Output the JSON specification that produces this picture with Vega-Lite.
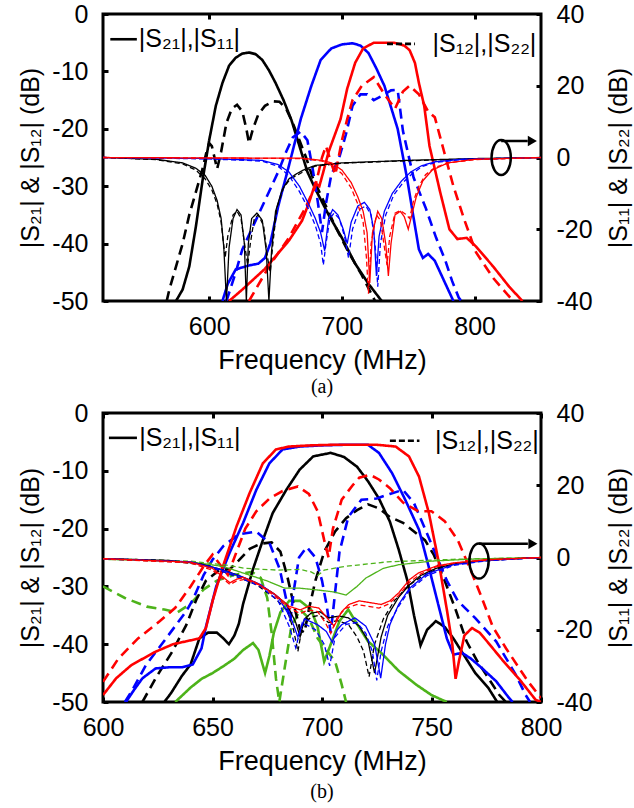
{
"$schema": "https://vega.github.io/schema/vega-lite/v6.json",
"background": "white",
"padding": {"left": 17, "top": 0, "right": 3, "bottom": 3},
"spacing": 0,
"config": {
  "view": {"stroke": "black", "strokeWidth": 3},
  "font": "Liberation Sans",
  "axis": {"domain": false, "grid": false, "zindex": 1, "labelFont": "Liberation Sans", "labelFontSize": 25, "labelColor": "black", "titleFont": "Liberation Sans", "titleFontSize": 25, "titleFontWeight": "normal", "titleColor": "black", "tickColor": "black", "tickWidth": 3, "tickSize": -5, "labelPadding": 20, "labelFlush": false, "labelOverlap": false, "labelBound": false},
  "title": {"font": "Liberation Serif", "fontSize": 20, "fontWeight": "normal", "color": "black"}
},
"datasets": {
"aL": [
{"c":"F1","p":"S21","f":575,"v":-50},{"c":"F1","p":"S21","f":580,"v":-48},{"c":"F1","p":"S21","f":585,"v":-44},{"c":"F1","p":"S21","f":590,"v":-37},{"c":"F1","p":"S21","f":595,"v":-29},{"c":"F1","p":"S21","f":600,"v":-22},{"c":"F1","p":"S21","f":605,"v":-16},{"c":"F1","p":"S21","f":610,"v":-12},{"c":"F1","p":"S21","f":615,"v":-9},{"c":"F1","p":"S21","f":620,"v":-7.6},{"c":"F1","p":"S21","f":625,"v":-6.9},{"c":"F1","p":"S21","f":630,"v":-6.7},{"c":"F1","p":"S21","f":635,"v":-7},{"c":"F1","p":"S21","f":640,"v":-8},{"c":"F1","p":"S21","f":645,"v":-9.8},{"c":"F1","p":"S21","f":650,"v":-12},{"c":"F1","p":"S21","f":656,"v":-15},{"c":"F1","p":"S21","f":662,"v":-18.5},{"c":"F1","p":"S21","f":668,"v":-23},{"c":"F1","p":"S21","f":674,"v":-27.5},{"c":"F1","p":"S21","f":680,"v":-30.5},{"c":"F1","p":"S21","f":690,"v":-35},{"c":"F1","p":"S21","f":700,"v":-39},{"c":"F1","p":"S21","f":710,"v":-43.5},{"c":"F1","p":"S21","f":720,"v":-47},{"c":"F1","p":"S21","f":730,"v":-50},
{"c":"F1","p":"S12","f":568,"v":-50},{"c":"F1","p":"S12","f":570,"v":-48},{"c":"F1","p":"S12","f":575,"v":-44},{"c":"F1","p":"S12","f":580,"v":-40},{"c":"F1","p":"S12","f":585,"v":-35},{"c":"F1","p":"S12","f":590,"v":-31},{"c":"F1","p":"S12","f":595,"v":-27},{"c":"F1","p":"S12","f":598,"v":-24},{"c":"F1","p":"S12","f":600,"v":-22.5},{"c":"F1","p":"S12","f":602,"v":-23},{"c":"F1","p":"S12","f":604,"v":-25},{"c":"F1","p":"S12","f":606,"v":-27},{"c":"F1","p":"S12","f":609,"v":-24},{"c":"F1","p":"S12","f":613,"v":-19},{"c":"F1","p":"S12","f":617,"v":-16.5},{"c":"F1","p":"S12","f":621,"v":-15.8},{"c":"F1","p":"S12","f":625,"v":-17},{"c":"F1","p":"S12","f":628,"v":-20},{"c":"F1","p":"S12","f":630,"v":-22.5},{"c":"F1","p":"S12","f":633,"v":-20},{"c":"F1","p":"S12","f":637,"v":-17.5},{"c":"F1","p":"S12","f":642,"v":-16},{"c":"F1","p":"S12","f":648,"v":-15.2},{"c":"F1","p":"S12","f":653,"v":-15.3},{"c":"F1","p":"S12","f":658,"v":-16.5},{"c":"F1","p":"S12","f":663,"v":-19},{"c":"F1","p":"S12","f":668,"v":-22},{"c":"F1","p":"S12","f":673,"v":-25},{"c":"F1","p":"S12","f":678,"v":-28.5},{"c":"F1","p":"S12","f":685,"v":-32},{"c":"F1","p":"S12","f":695,"v":-37},{"c":"F1","p":"S12","f":705,"v":-41.5},{"c":"F1","p":"S12","f":715,"v":-45.5},{"c":"F1","p":"S12","f":725,"v":-50},
{"c":"F2","p":"S21","f":610,"v":-50},{"c":"F2","p":"S21","f":614,"v":-47},{"c":"F2","p":"S21","f":620,"v":-44.5},{"c":"F2","p":"S21","f":630,"v":-43.8},{"c":"F2","p":"S21","f":637,"v":-43.5},{"c":"F2","p":"S21","f":642,"v":-42.5},{"c":"F2","p":"S21","f":646,"v":-40},{"c":"F2","p":"S21","f":652,"v":-33.5},{"c":"F2","p":"S21","f":660,"v":-26.5},{"c":"F2","p":"S21","f":669,"v":-18.3},{"c":"F2","p":"S21","f":677,"v":-12.5},{"c":"F2","p":"S21","f":684,"v":-8},{"c":"F2","p":"S21","f":692,"v":-6},{"c":"F2","p":"S21","f":700,"v":-5.3},{"c":"F2","p":"S21","f":708,"v":-5.1},{"c":"F2","p":"S21","f":714,"v":-5.5},{"c":"F2","p":"S21","f":720,"v":-6.8},{"c":"F2","p":"S21","f":726,"v":-9.5},{"c":"F2","p":"S21","f":732,"v":-12.5},{"c":"F2","p":"S21","f":742,"v":-20},{"c":"F2","p":"S21","f":749,"v":-28.5},{"c":"F2","p":"S21","f":754,"v":-35.5},{"c":"F2","p":"S21","f":758,"v":-41},{"c":"F2","p":"S21","f":761,"v":-42.5},{"c":"F2","p":"S21","f":765,"v":-41.8},{"c":"F2","p":"S21","f":770,"v":-43},{"c":"F2","p":"S21","f":776,"v":-46},{"c":"F2","p":"S21","f":784,"v":-50},
{"c":"F2","p":"S12","f":613,"v":-50},{"c":"F2","p":"S12","f":620,"v":-45},{"c":"F2","p":"S12","f":625,"v":-41},{"c":"F2","p":"S12","f":635,"v":-36},{"c":"F2","p":"S12","f":645,"v":-31},{"c":"F2","p":"S12","f":652,"v":-27.5},{"c":"F2","p":"S12","f":658,"v":-24},{"c":"F2","p":"S12","f":663,"v":-21.5},{"c":"F2","p":"S12","f":669,"v":-20.5},{"c":"F2","p":"S12","f":674,"v":-22},{"c":"F2","p":"S12","f":678,"v":-27},{"c":"F2","p":"S12","f":682,"v":-33},{"c":"F2","p":"S12","f":685,"v":-38},{"c":"F2","p":"S12","f":688,"v":-33},{"c":"F2","p":"S12","f":692,"v":-28},{"c":"F2","p":"S12","f":698,"v":-25},{"c":"F2","p":"S12","f":703,"v":-21},{"c":"F2","p":"S12","f":708,"v":-16},{"c":"F2","p":"S12","f":714,"v":-14},{"c":"F2","p":"S12","f":719,"v":-14},{"c":"F2","p":"S12","f":724,"v":-15},{"c":"F2","p":"S12","f":730,"v":-14.3},{"c":"F2","p":"S12","f":737,"v":-13.3},{"c":"F2","p":"S12","f":742,"v":-13.2},{"c":"F2","p":"S12","f":746,"v":-20.4},{"c":"F2","p":"S12","f":754,"v":-28.5},{"c":"F2","p":"S12","f":763,"v":-33.7},{"c":"F2","p":"S12","f":771,"v":-39},{"c":"F2","p":"S12","f":778,"v":-43},{"c":"F2","p":"S12","f":783,"v":-46.5},{"c":"F2","p":"S12","f":788,"v":-49.4},{"c":"F2","p":"S12","f":790,"v":-50},
{"c":"F3","p":"S21","f":615,"v":-50},{"c":"F3","p":"S21","f":625,"v":-48},{"c":"F3","p":"S21","f":642,"v":-44.4},{"c":"F3","p":"S21","f":660,"v":-39.5},{"c":"F3","p":"S21","f":670,"v":-36},{"c":"F3","p":"S21","f":675,"v":-33},{"c":"F3","p":"S21","f":680,"v":-29.5},{"c":"F3","p":"S21","f":683,"v":-30},{"c":"F3","p":"S21","f":686,"v":-27.5},{"c":"F3","p":"S21","f":690,"v":-24},{"c":"F3","p":"S21","f":699,"v":-18.3},{"c":"F3","p":"S21","f":704,"v":-13},{"c":"F3","p":"S21","f":710,"v":-8.5},{"c":"F3","p":"S21","f":716,"v":-6},{"c":"F3","p":"S21","f":724,"v":-5},{"c":"F3","p":"S21","f":739,"v":-5},{"c":"F3","p":"S21","f":747,"v":-5.5},{"c":"F3","p":"S21","f":751,"v":-6.3},{"c":"F3","p":"S21","f":755,"v":-8.5},{"c":"F3","p":"S21","f":758,"v":-12},{"c":"F3","p":"S21","f":762,"v":-16},{"c":"F3","p":"S21","f":766,"v":-23},{"c":"F3","p":"S21","f":774,"v":-31},{"c":"F3","p":"S21","f":781,"v":-37.5},{"c":"F3","p":"S21","f":787,"v":-39.2},{"c":"F3","p":"S21","f":794,"v":-39},{"c":"F3","p":"S21","f":801,"v":-40.5},{"c":"F3","p":"S21","f":814,"v":-44},{"c":"F3","p":"S21","f":826,"v":-47.5},{"c":"F3","p":"S21","f":836,"v":-50},
{"c":"F3","p":"S12","f":630,"v":-50},{"c":"F3","p":"S12","f":645,"v":-44},{"c":"F3","p":"S12","f":660,"v":-39},{"c":"F3","p":"S12","f":672,"v":-34},{"c":"F3","p":"S12","f":680,"v":-30},{"c":"F3","p":"S12","f":685,"v":-25},{"c":"F3","p":"S12","f":688,"v":-23},{"c":"F3","p":"S12","f":692,"v":-26},{"c":"F3","p":"S12","f":695,"v":-28},{"c":"F3","p":"S12","f":700,"v":-22},{"c":"F3","p":"S12","f":704,"v":-18.3},{"c":"F3","p":"S12","f":708,"v":-15},{"c":"F3","p":"S12","f":715,"v":-12.5},{"c":"F3","p":"S12","f":724,"v":-11},{"c":"F3","p":"S12","f":732,"v":-14},{"c":"F3","p":"S12","f":740,"v":-16.5},{"c":"F3","p":"S12","f":746,"v":-13.5},{"c":"F3","p":"S12","f":751,"v":-12.5},{"c":"F3","p":"S12","f":758,"v":-14},{"c":"F3","p":"S12","f":765,"v":-17},{"c":"F3","p":"S12","f":770,"v":-18},{"c":"F3","p":"S12","f":777,"v":-24},{"c":"F3","p":"S12","f":784,"v":-30},{"c":"F3","p":"S12","f":792,"v":-35.7},{"c":"F3","p":"S12","f":801,"v":-41.5},{"c":"F3","p":"S12","f":814,"v":-46},{"c":"F3","p":"S12","f":829,"v":-50}
],
"aR": [
{"c":"F1","p":"S11","f":520,"v":0},{"c":"F1","p":"S11","f":560,"v":-0.5},{"c":"F1","p":"S11","f":580,"v":-1.5},{"c":"F1","p":"S11","f":590,"v":-3},{"c":"F1","p":"S11","f":597,"v":-5},{"c":"F1","p":"S11","f":602,"v":-8},{"c":"F1","p":"S11","f":606,"v":-12},{"c":"F1","p":"S11","f":609,"v":-17},{"c":"F1","p":"S11","f":611,"v":-25},{"c":"F1","p":"S11","f":613,"v":-40},{"c":"F1","p":"S11","f":615,"v":-25},{"c":"F1","p":"S11","f":618,"v":-17},{"c":"F1","p":"S11","f":621,"v":-14.5},{"c":"F1","p":"S11","f":624,"v":-16},{"c":"F1","p":"S11","f":626.5,"v":-24},{"c":"F1","p":"S11","f":628,"v":-40},{"c":"F1","p":"S11","f":629.5,"v":-24},{"c":"F1","p":"S11","f":632,"v":-17},{"c":"F1","p":"S11","f":636,"v":-15.5},{"c":"F1","p":"S11","f":640,"v":-17.5},{"c":"F1","p":"S11","f":643,"v":-26},{"c":"F1","p":"S11","f":645,"v":-40},{"c":"F1","p":"S11","f":647,"v":-26},{"c":"F1","p":"S11","f":650,"v":-15},{"c":"F1","p":"S11","f":655,"v":-9},{"c":"F1","p":"S11","f":660,"v":-6},{"c":"F1","p":"S11","f":666,"v":-4.5},{"c":"F1","p":"S11","f":672,"v":-3.3},{"c":"F1","p":"S11","f":680,"v":-2.2},{"c":"F1","p":"S11","f":700,"v":-1.5},{"c":"F1","p":"S11","f":750,"v":-0.8},{"c":"F1","p":"S11","f":800,"v":-0.3},{"c":"F1","p":"S11","f":850,"v":0},
{"c":"F1","p":"S22","f":520,"v":0},{"c":"F1","p":"S22","f":560,"v":-0.6},{"c":"F1","p":"S22","f":580,"v":-1.8},{"c":"F1","p":"S22","f":590,"v":-3.5},{"c":"F1","p":"S22","f":597,"v":-6},{"c":"F1","p":"S22","f":602,"v":-9},{"c":"F1","p":"S22","f":606,"v":-13},{"c":"F1","p":"S22","f":609,"v":-18},{"c":"F1","p":"S22","f":612,"v":-28},{"c":"F1","p":"S22","f":614,"v":-22},{"c":"F1","p":"S22","f":618,"v":-16},{"c":"F1","p":"S22","f":621,"v":-15},{"c":"F1","p":"S22","f":624,"v":-17},{"c":"F1","p":"S22","f":627,"v":-25},{"c":"F1","p":"S22","f":629,"v":-30},{"c":"F1","p":"S22","f":631,"v":-24},{"c":"F1","p":"S22","f":634,"v":-17},{"c":"F1","p":"S22","f":637,"v":-16},{"c":"F1","p":"S22","f":641,"v":-19},{"c":"F1","p":"S22","f":644,"v":-28},{"c":"F1","p":"S22","f":646,"v":-32},{"c":"F1","p":"S22","f":648,"v":-24},{"c":"F1","p":"S22","f":651,"v":-14},{"c":"F1","p":"S22","f":656,"v":-8.5},{"c":"F1","p":"S22","f":661,"v":-6},{"c":"F1","p":"S22","f":667,"v":-4.8},{"c":"F1","p":"S22","f":673,"v":-3.5},{"c":"F1","p":"S22","f":680,"v":-2.4},{"c":"F1","p":"S22","f":700,"v":-1.6},{"c":"F1","p":"S22","f":750,"v":-0.9},{"c":"F1","p":"S22","f":800,"v":-0.4},{"c":"F1","p":"S22","f":850,"v":0},
{"c":"F2","p":"S11","f":520,"v":0},{"c":"F2","p":"S11","f":600,"v":-0.3},{"c":"F2","p":"S11","f":640,"v":-0.8},{"c":"F2","p":"S11","f":652,"v":-2},{"c":"F2","p":"S11","f":660,"v":-4},{"c":"F2","p":"S11","f":668,"v":-8},{"c":"F2","p":"S11","f":675,"v":-13},{"c":"F2","p":"S11","f":680,"v":-17},{"c":"F2","p":"S11","f":684,"v":-21},{"c":"F2","p":"S11","f":687,"v":-26},{"c":"F2","p":"S11","f":690,"v":-17},{"c":"F2","p":"S11","f":693,"v":-14.5},{"c":"F2","p":"S11","f":697,"v":-16},{"c":"F2","p":"S11","f":701,"v":-20},{"c":"F2","p":"S11","f":704,"v":-24},{"c":"F2","p":"S11","f":707,"v":-18},{"c":"F2","p":"S11","f":712,"v":-13.5},{"c":"F2","p":"S11","f":717,"v":-12.5},{"c":"F2","p":"S11","f":721,"v":-14.5},{"c":"F2","p":"S11","f":724,"v":-20},{"c":"F2","p":"S11","f":726,"v":-33},{"c":"F2","p":"S11","f":728,"v":-22},{"c":"F2","p":"S11","f":732,"v":-15},{"c":"F2","p":"S11","f":738,"v":-10},{"c":"F2","p":"S11","f":745,"v":-6.5},{"c":"F2","p":"S11","f":752,"v":-4},{"c":"F2","p":"S11","f":760,"v":-2.3},{"c":"F2","p":"S11","f":770,"v":-1.2},{"c":"F2","p":"S11","f":790,"v":-0.5},{"c":"F2","p":"S11","f":850,"v":0},
{"c":"F2","p":"S22","f":520,"v":0},{"c":"F2","p":"S22","f":600,"v":-0.4},{"c":"F2","p":"S22","f":640,"v":-1},{"c":"F2","p":"S22","f":652,"v":-2.5},{"c":"F2","p":"S22","f":660,"v":-5},{"c":"F2","p":"S22","f":668,"v":-9.5},{"c":"F2","p":"S22","f":675,"v":-14.5},{"c":"F2","p":"S22","f":680,"v":-19},{"c":"F2","p":"S22","f":684,"v":-24},{"c":"F2","p":"S22","f":686,"v":-30},{"c":"F2","p":"S22","f":688,"v":-24},{"c":"F2","p":"S22","f":691,"v":-17},{"c":"F2","p":"S22","f":694,"v":-15.5},{"c":"F2","p":"S22","f":698,"v":-17},{"c":"F2","p":"S22","f":702,"v":-22},{"c":"F2","p":"S22","f":705,"v":-28},{"c":"F2","p":"S22","f":708,"v":-20},{"c":"F2","p":"S22","f":713,"v":-14.5},{"c":"F2","p":"S22","f":718,"v":-13.5},{"c":"F2","p":"S22","f":722,"v":-16},{"c":"F2","p":"S22","f":725,"v":-24},{"c":"F2","p":"S22","f":727,"v":-36},{"c":"F2","p":"S22","f":729,"v":-24},{"c":"F2","p":"S22","f":733,"v":-16},{"c":"F2","p":"S22","f":739,"v":-10.5},{"c":"F2","p":"S22","f":746,"v":-7},{"c":"F2","p":"S22","f":753,"v":-4.5},{"c":"F2","p":"S22","f":760,"v":-2.6},{"c":"F2","p":"S22","f":770,"v":-1.4},{"c":"F2","p":"S22","f":790,"v":-0.6},{"c":"F2","p":"S22","f":850,"v":0},
{"c":"F3","p":"S11","f":520,"v":0},{"c":"F3","p":"S11","f":670,"v":-0.2},{"c":"F3","p":"S11","f":685,"v":-0.8},{"c":"F3","p":"S11","f":692,"v":-1.5},{"c":"F3","p":"S11","f":700,"v":-3.5},{"c":"F3","p":"S11","f":707,"v":-7},{"c":"F3","p":"S11","f":712,"v":-11},{"c":"F3","p":"S11","f":716,"v":-15},{"c":"F3","p":"S11","f":719,"v":-21},{"c":"F3","p":"S11","f":721,"v":-35},{"c":"F3","p":"S11","f":723,"v":-21},{"c":"F3","p":"S11","f":727,"v":-15},{"c":"F3","p":"S11","f":730,"v":-17},{"c":"F3","p":"S11","f":733,"v":-24},{"c":"F3","p":"S11","f":735,"v":-33},{"c":"F3","p":"S11","f":737,"v":-24},{"c":"F3","p":"S11","f":740,"v":-16},{"c":"F3","p":"S11","f":744,"v":-15},{"c":"F3","p":"S11","f":747,"v":-16.5},{"c":"F3","p":"S11","f":750,"v":-20},{"c":"F3","p":"S11","f":752,"v":-17},{"c":"F3","p":"S11","f":756,"v":-11},{"c":"F3","p":"S11","f":761,"v":-6.5},{"c":"F3","p":"S11","f":768,"v":-3.5},{"c":"F3","p":"S11","f":780,"v":-1.5},{"c":"F3","p":"S11","f":800,"v":-0.5},{"c":"F3","p":"S11","f":850,"v":0},
{"c":"F3","p":"S22","f":520,"v":0},{"c":"F3","p":"S22","f":670,"v":-0.3},{"c":"F3","p":"S22","f":685,"v":-1},{"c":"F3","p":"S22","f":692,"v":-2},{"c":"F3","p":"S22","f":700,"v":-4.5},{"c":"F3","p":"S22","f":707,"v":-8.5},{"c":"F3","p":"S22","f":712,"v":-13},{"c":"F3","p":"S22","f":716,"v":-18},{"c":"F3","p":"S22","f":718.5,"v":-28},{"c":"F3","p":"S22","f":720,"v":-38},{"c":"F3","p":"S22","f":722,"v":-24},{"c":"F3","p":"S22","f":726,"v":-16},{"c":"F3","p":"S22","f":729,"v":-17.5},{"c":"F3","p":"S22","f":732,"v":-25},{"c":"F3","p":"S22","f":734,"v":-30},{"c":"F3","p":"S22","f":736,"v":-22},{"c":"F3","p":"S22","f":740,"v":-15.5},{"c":"F3","p":"S22","f":744,"v":-14.8},{"c":"F3","p":"S22","f":748,"v":-15.8},{"c":"F3","p":"S22","f":751,"v":-17},{"c":"F3","p":"S22","f":754,"v":-12},{"c":"F3","p":"S22","f":758,"v":-8},{"c":"F3","p":"S22","f":763,"v":-4.8},{"c":"F3","p":"S22","f":770,"v":-2.8},{"c":"F3","p":"S22","f":780,"v":-1.5},{"c":"F3","p":"S22","f":800,"v":-0.6},{"c":"F3","p":"S22","f":850,"v":0}
],
"bL": [
{"c":"F4","p":"S21","f":633,"v":-50},{"c":"F4","p":"S21","f":640,"v":-47.5},{"c":"F4","p":"S21","f":645,"v":-46},{"c":"F4","p":"S21","f":650,"v":-45},{"c":"F4","p":"S21","f":655,"v":-43.8},{"c":"F4","p":"S21","f":660,"v":-42.5},{"c":"F4","p":"S21","f":664,"v":-41},{"c":"F4","p":"S21","f":668.5,"v":-39.8},{"c":"F4","p":"S21","f":671,"v":-41},{"c":"F4","p":"S21","f":674,"v":-45},{"c":"F4","p":"S21","f":676,"v":-42},{"c":"F4","p":"S21","f":678,"v":-38},{"c":"F4","p":"S21","f":681,"v":-34.5},{"c":"F4","p":"S21","f":685,"v":-32.5},{"c":"F4","p":"S21","f":690,"v":-32.5},{"c":"F4","p":"S21","f":695,"v":-34},{"c":"F4","p":"S21","f":698,"v":-37},{"c":"F4","p":"S21","f":701,"v":-43},{"c":"F4","p":"S21","f":704,"v":-40},{"c":"F4","p":"S21","f":708,"v":-36},{"c":"F4","p":"S21","f":712,"v":-34},{"c":"F4","p":"S21","f":716,"v":-36.5},{"c":"F4","p":"S21","f":721,"v":-39.5},{"c":"F4","p":"S21","f":727,"v":-41.5},{"c":"F4","p":"S21","f":735,"v":-44.6},{"c":"F4","p":"S21","f":743,"v":-47},{"c":"F4","p":"S21","f":750,"v":-48.8},{"c":"F4","p":"S21","f":757,"v":-50},
{"c":"F4","p":"S12","f":600,"v":-30},{"c":"F4","p":"S12","f":605,"v":-31},{"c":"F4","p":"S12","f":610,"v":-32},{"c":"F4","p":"S12","f":620,"v":-33.5},{"c":"F4","p":"S12","f":628,"v":-34},{"c":"F4","p":"S12","f":634,"v":-34.5},{"c":"F4","p":"S12","f":640,"v":-33},{"c":"F4","p":"S12","f":646,"v":-30.5},{"c":"F4","p":"S12","f":652,"v":-29},{"c":"F4","p":"S12","f":660,"v":-28},{"c":"F4","p":"S12","f":668,"v":-27.5},{"c":"F4","p":"S12","f":672,"v":-28.5},{"c":"F4","p":"S12","f":675,"v":-32},{"c":"F4","p":"S12","f":677,"v":-38},{"c":"F4","p":"S12","f":679,"v":-46},{"c":"F4","p":"S12","f":680.5,"v":-50},{"c":"F4","p":"S12","f":683,"v":-44},{"c":"F4","p":"S12","f":686,"v":-37},{"c":"F4","p":"S12","f":690,"v":-34},{"c":"F4","p":"S12","f":694,"v":-35.5},{"c":"F4","p":"S12","f":698,"v":-39},{"c":"F4","p":"S12","f":702,"v":-41},{"c":"F4","p":"S12","f":706,"v":-43},{"c":"F4","p":"S12","f":709,"v":-47},{"c":"F4","p":"S12","f":711,"v":-50},
{"c":"F1","p":"S21","f":628,"v":-50},{"c":"F1","p":"S21","f":631,"v":-48.5},{"c":"F1","p":"S21","f":636,"v":-45.5},{"c":"F1","p":"S21","f":640,"v":-43.5},{"c":"F1","p":"S21","f":644,"v":-39},{"c":"F1","p":"S21","f":648,"v":-38},{"c":"F1","p":"S21","f":652,"v":-38},{"c":"F1","p":"S21","f":655,"v":-39},{"c":"F1","p":"S21","f":657.5,"v":-40},{"c":"F1","p":"S21","f":660,"v":-38.5},{"c":"F1","p":"S21","f":662,"v":-36.5},{"c":"F1","p":"S21","f":664,"v":-33},{"c":"F1","p":"S21","f":668.5,"v":-27},{"c":"F1","p":"S21","f":673,"v":-22},{"c":"F1","p":"S21","f":677.5,"v":-17.3},{"c":"F1","p":"S21","f":683.7,"v":-13.3},{"c":"F1","p":"S21","f":689.8,"v":-9.8},{"c":"F1","p":"S21","f":696,"v":-7.5},{"c":"F1","p":"S21","f":704,"v":-6.9},{"c":"F1","p":"S21","f":710,"v":-7.6},{"c":"F1","p":"S21","f":716,"v":-9.3},{"c":"F1","p":"S21","f":721,"v":-11.8},{"c":"F1","p":"S21","f":726,"v":-14.8},{"c":"F1","p":"S21","f":731,"v":-18.8},{"c":"F1","p":"S21","f":735,"v":-23.6},{"c":"F1","p":"S21","f":739,"v":-29},{"c":"F1","p":"S21","f":742,"v":-35},{"c":"F1","p":"S21","f":745,"v":-40.2},{"c":"F1","p":"S21","f":748,"v":-37.5},{"c":"F1","p":"S21","f":752,"v":-36},{"c":"F1","p":"S21","f":756,"v":-37},{"c":"F1","p":"S21","f":760,"v":-39},{"c":"F1","p":"S21","f":765,"v":-42},{"c":"F1","p":"S21","f":770,"v":-45},{"c":"F1","p":"S21","f":776,"v":-47.6},{"c":"F1","p":"S21","f":780,"v":-50},
{"c":"F1","p":"S12","f":618,"v":-50},{"c":"F1","p":"S12","f":624,"v":-45.9},{"c":"F1","p":"S12","f":631.6,"v":-41.3},{"c":"F1","p":"S12","f":638,"v":-36.7},{"c":"F1","p":"S12","f":642.6,"v":-32.3},{"c":"F1","p":"S12","f":647,"v":-29},{"c":"F1","p":"S12","f":653,"v":-27.2},{"c":"F1","p":"S12","f":658,"v":-27},{"c":"F1","p":"S12","f":662,"v":-25.5},{"c":"F1","p":"S12","f":667,"v":-23.5},{"c":"F1","p":"S12","f":672,"v":-22.6},{"c":"F1","p":"S12","f":677,"v":-22.4},{"c":"F1","p":"S12","f":681,"v":-24},{"c":"F1","p":"S12","f":684,"v":-28},{"c":"F1","p":"S12","f":687,"v":-33},{"c":"F1","p":"S12","f":690,"v":-37.5},{"c":"F1","p":"S12","f":692,"v":-38},{"c":"F1","p":"S12","f":694,"v":-34},{"c":"F1","p":"S12","f":697,"v":-29},{"c":"F1","p":"S12","f":701,"v":-24},{"c":"F1","p":"S12","f":706,"v":-20.5},{"c":"F1","p":"S12","f":711,"v":-18.2},{"c":"F1","p":"S12","f":716,"v":-16.8},{"c":"F1","p":"S12","f":721,"v":-15.8},{"c":"F1","p":"S12","f":726,"v":-16.5},{"c":"F1","p":"S12","f":731,"v":-18},{"c":"F1","p":"S12","f":737,"v":-19},{"c":"F1","p":"S12","f":742,"v":-20.5},{"c":"F1","p":"S12","f":747,"v":-22},{"c":"F1","p":"S12","f":751,"v":-24.5},{"c":"F1","p":"S12","f":756,"v":-29},{"c":"F1","p":"S12","f":761,"v":-34},{"c":"F1","p":"S12","f":766,"v":-39.5},{"c":"F1","p":"S12","f":771,"v":-43},{"c":"F1","p":"S12","f":775,"v":-45.3},{"c":"F1","p":"S12","f":781,"v":-48.8},{"c":"F1","p":"S12","f":784,"v":-50},
{"c":"F2","p":"S21","f":610.5,"v":-50},{"c":"F2","p":"S21","f":614,"v":-48},{"c":"F2","p":"S21","f":618,"v":-45.9},{"c":"F2","p":"S21","f":624,"v":-44.2},{"c":"F2","p":"S21","f":630,"v":-44},{"c":"F2","p":"S21","f":636,"v":-44},{"c":"F2","p":"S21","f":641,"v":-43.5},{"c":"F2","p":"S21","f":645,"v":-40.7},{"c":"F2","p":"S21","f":647,"v":-37},{"c":"F2","p":"S21","f":651.7,"v":-30},{"c":"F2","p":"S21","f":657.8,"v":-24.2},{"c":"F2","p":"S21","f":664,"v":-19},{"c":"F2","p":"S21","f":670,"v":-13.3},{"c":"F2","p":"S21","f":676,"v":-8.7},{"c":"F2","p":"S21","f":682,"v":-6.3},{"c":"F2","p":"S21","f":690,"v":-5.8},{"c":"F2","p":"S21","f":700,"v":-5.6},{"c":"F2","p":"S21","f":710,"v":-5.5},{"c":"F2","p":"S21","f":721,"v":-5.5},{"c":"F2","p":"S21","f":726,"v":-6.9},{"c":"F2","p":"S21","f":732,"v":-10.4},{"c":"F2","p":"S21","f":738,"v":-15},{"c":"F2","p":"S21","f":744.3,"v":-20.2},{"c":"F2","p":"S21","f":749,"v":-27},{"c":"F2","p":"S21","f":753,"v":-33},{"c":"F2","p":"S21","f":757,"v":-39},{"c":"F2","p":"S21","f":760,"v":-41.8},{"c":"F2","p":"S21","f":764,"v":-41.5},{"c":"F2","p":"S21","f":768,"v":-42.5},{"c":"F2","p":"S21","f":772,"v":-43.8},{"c":"F2","p":"S21","f":779.5,"v":-46.4},{"c":"F2","p":"S21","f":785.4,"v":-49.3},{"c":"F2","p":"S21","f":787,"v":-50},
{"c":"F2","p":"S12","f":610,"v":-50},{"c":"F2","p":"S12","f":613,"v":-48.2},{"c":"F2","p":"S12","f":619.6,"v":-43.6},{"c":"F2","p":"S12","f":628.8,"v":-39},{"c":"F2","p":"S12","f":638,"v":-34.3},{"c":"F2","p":"S12","f":641,"v":-32.3},{"c":"F2","p":"S12","f":646,"v":-28},{"c":"F2","p":"S12","f":650,"v":-25.4},{"c":"F2","p":"S12","f":655,"v":-23},{"c":"F2","p":"S12","f":662,"v":-21},{"c":"F2","p":"S12","f":670,"v":-20.5},{"c":"F2","p":"S12","f":676,"v":-22.5},{"c":"F2","p":"S12","f":680.7,"v":-27},{"c":"F2","p":"S12","f":683.7,"v":-32.3},{"c":"F2","p":"S12","f":685.5,"v":-36},{"c":"F2","p":"S12","f":687,"v":-31},{"c":"F2","p":"S12","f":689.5,"v":-25},{"c":"F2","p":"S12","f":693,"v":-23.2},{"c":"F2","p":"S12","f":697,"v":-25},{"c":"F2","p":"S12","f":700,"v":-29},{"c":"F2","p":"S12","f":702,"v":-33},{"c":"F2","p":"S12","f":704,"v":-38},{"c":"F2","p":"S12","f":706,"v":-31},{"c":"F2","p":"S12","f":708,"v":-24},{"c":"F2","p":"S12","f":712,"v":-18},{"c":"F2","p":"S12","f":718,"v":-15},{"c":"F2","p":"S12","f":725,"v":-14.8},{"c":"F2","p":"S12","f":731,"v":-14},{"c":"F2","p":"S12","f":737,"v":-13.3},{"c":"F2","p":"S12","f":742,"v":-15.6},{"c":"F2","p":"S12","f":747,"v":-20},{"c":"F2","p":"S12","f":752,"v":-24.5},{"c":"F2","p":"S12","f":757,"v":-29},{"c":"F2","p":"S12","f":762,"v":-32.5},{"c":"F2","p":"S12","f":770,"v":-35.5},{"c":"F2","p":"S12","f":779.5,"v":-39.5},{"c":"F2","p":"S12","f":788.5,"v":-45.3},{"c":"F2","p":"S12","f":793,"v":-48.8},{"c":"F2","p":"S12","f":795,"v":-50},
{"c":"F3","p":"S21","f":600,"v":-48.8},{"c":"F3","p":"S21","f":606,"v":-45.9},{"c":"F3","p":"S21","f":613,"v":-43.6},{"c":"F3","p":"S21","f":624,"v":-41.3},{"c":"F3","p":"S21","f":632,"v":-40},{"c":"F3","p":"S21","f":638,"v":-39.5},{"c":"F3","p":"S21","f":644,"v":-39},{"c":"F3","p":"S21","f":647,"v":-37.2},{"c":"F3","p":"S21","f":650.2,"v":-32.3},{"c":"F3","p":"S21","f":654.8,"v":-26.5},{"c":"F3","p":"S21","f":661,"v":-19.6},{"c":"F3","p":"S21","f":667,"v":-13.8},{"c":"F3","p":"S21","f":673,"v":-8.7},{"c":"F3","p":"S21","f":679,"v":-6.3},{"c":"F3","p":"S21","f":685,"v":-5.8},{"c":"F3","p":"S21","f":695,"v":-5.6},{"c":"F3","p":"S21","f":705,"v":-5.5},{"c":"F3","p":"S21","f":714,"v":-5.5},{"c":"F3","p":"S21","f":725,"v":-5.5},{"c":"F3","p":"S21","f":733.6,"v":-5.8},{"c":"F3","p":"S21","f":739.7,"v":-7.5},{"c":"F3","p":"S21","f":744.3,"v":-11},{"c":"F3","p":"S21","f":748.8,"v":-17.3},{"c":"F3","p":"S21","f":753.4,"v":-26},{"c":"F3","p":"S21","f":757,"v":-34},{"c":"F3","p":"S21","f":759.5,"v":-40},{"c":"F3","p":"S21","f":761,"v":-46},{"c":"F3","p":"S21","f":762.5,"v":-43},{"c":"F3","p":"S21","f":765,"v":-38.5},{"c":"F3","p":"S21","f":768.5,"v":-37.2},{"c":"F3","p":"S21","f":772,"v":-38},{"c":"F3","p":"S21","f":776,"v":-39.8},{"c":"F3","p":"S21","f":782.3,"v":-42.7},{"c":"F3","p":"S21","f":790,"v":-46},{"c":"F3","p":"S21","f":797.5,"v":-49.6},{"c":"F3","p":"S21","f":800,"v":-50},
{"c":"F3","p":"S12","f":600,"v":-46.5},{"c":"F3","p":"S12","f":607,"v":-42.5},{"c":"F3","p":"S12","f":616,"v":-39},{"c":"F3","p":"S12","f":626,"v":-36},{"c":"F3","p":"S12","f":633,"v":-33.7},{"c":"F3","p":"S12","f":640,"v":-30},{"c":"F3","p":"S12","f":646,"v":-26.5},{"c":"F3","p":"S12","f":650,"v":-24.5},{"c":"F3","p":"S12","f":654,"v":-26.5},{"c":"F3","p":"S12","f":657,"v":-28},{"c":"F3","p":"S12","f":661,"v":-24},{"c":"F3","p":"S12","f":665,"v":-20},{"c":"F3","p":"S12","f":670,"v":-17},{"c":"F3","p":"S12","f":676,"v":-14.8},{"c":"F3","p":"S12","f":682,"v":-13.5},{"c":"F3","p":"S12","f":689,"v":-12.7},{"c":"F3","p":"S12","f":694,"v":-14},{"c":"F3","p":"S12","f":698,"v":-17},{"c":"F3","p":"S12","f":701,"v":-22},{"c":"F3","p":"S12","f":703,"v":-25},{"c":"F3","p":"S12","f":705,"v":-20},{"c":"F3","p":"S12","f":709,"v":-15},{"c":"F3","p":"S12","f":714,"v":-12.5},{"c":"F3","p":"S12","f":717,"v":-11.2},{"c":"F3","p":"S12","f":722,"v":-10.7},{"c":"F3","p":"S12","f":726,"v":-11.5},{"c":"F3","p":"S12","f":731,"v":-13},{"c":"F3","p":"S12","f":737,"v":-15.5},{"c":"F3","p":"S12","f":744,"v":-17},{"c":"F3","p":"S12","f":750,"v":-17},{"c":"F3","p":"S12","f":756,"v":-18.7},{"c":"F3","p":"S12","f":762,"v":-22},{"c":"F3","p":"S12","f":768,"v":-27.3},{"c":"F3","p":"S12","f":773,"v":-32},{"c":"F3","p":"S12","f":778,"v":-37},{"c":"F3","p":"S12","f":784,"v":-40.7},{"c":"F3","p":"S12","f":794,"v":-46.4},{"c":"F3","p":"S12","f":800,"v":-49.3}
],
"bR": [
{"c":"F4","p":"S11","f":600,"v":-0.5},{"c":"F4","p":"S11","f":640,"v":-1.2},{"c":"F4","p":"S11","f":655,"v":-2.5},{"c":"F4","p":"S11","f":665,"v":-4.5},{"c":"F4","p":"S11","f":675,"v":-6.5},{"c":"F4","p":"S11","f":683,"v":-8.5},{"c":"F4","p":"S11","f":690,"v":-8.5},{"c":"F4","p":"S11","f":698,"v":-9},{"c":"F4","p":"S11","f":705,"v":-9.5},{"c":"F4","p":"S11","f":711,"v":-10.4},{"c":"F4","p":"S11","f":716,"v":-8},{"c":"F4","p":"S11","f":720,"v":-5.7},{"c":"F4","p":"S11","f":728,"v":-3},{"c":"F4","p":"S11","f":735,"v":-2},{"c":"F4","p":"S11","f":750,"v":-1},{"c":"F4","p":"S11","f":770,"v":-0.4},{"c":"F4","p":"S11","f":800,"v":0},
{"c":"F4","p":"S22","f":600,"v":-0.3},{"c":"F4","p":"S22","f":640,"v":-1},{"c":"F4","p":"S22","f":655,"v":-2},{"c":"F4","p":"S22","f":665,"v":-3},{"c":"F4","p":"S22","f":680,"v":-3.5},{"c":"F4","p":"S22","f":690,"v":-3.3},{"c":"F4","p":"S22","f":695,"v":-4},{"c":"F4","p":"S22","f":698,"v":-5},{"c":"F4","p":"S22","f":701,"v":-3.5},{"c":"F4","p":"S22","f":710,"v":-2.5},{"c":"F4","p":"S22","f":730,"v":-1.2},{"c":"F4","p":"S22","f":760,"v":-0.5},{"c":"F4","p":"S22","f":800,"v":0},
{"c":"F1","p":"S11","f":600,"v":-0.3},{"c":"F1","p":"S11","f":630,"v":-0.8},{"c":"F1","p":"S11","f":645,"v":-1.8},{"c":"F1","p":"S11","f":655,"v":-3.5},{"c":"F1","p":"S11","f":662,"v":-5},{"c":"F1","p":"S11","f":670,"v":-7},{"c":"F1","p":"S11","f":678,"v":-10},{"c":"F1","p":"S11","f":684,"v":-13},{"c":"F1","p":"S11","f":688,"v":-18},{"c":"F1","p":"S11","f":690,"v":-22},{"c":"F1","p":"S11","f":692,"v":-17},{"c":"F1","p":"S11","f":695,"v":-15.4},{"c":"F1","p":"S11","f":699,"v":-15},{"c":"F1","p":"S11","f":703,"v":-16.7},{"c":"F1","p":"S11","f":708,"v":-16.2},{"c":"F1","p":"S11","f":712,"v":-16.7},{"c":"F1","p":"S11","f":717,"v":-19},{"c":"F1","p":"S11","f":721,"v":-23},{"c":"F1","p":"S11","f":724,"v":-32},{"c":"F1","p":"S11","f":727,"v":-22},{"c":"F1","p":"S11","f":730,"v":-16},{"c":"F1","p":"S11","f":735,"v":-11},{"c":"F1","p":"S11","f":740,"v":-7.5},{"c":"F1","p":"S11","f":745,"v":-5},{"c":"F1","p":"S11","f":752,"v":-3},{"c":"F1","p":"S11","f":760,"v":-1.8},{"c":"F1","p":"S11","f":770,"v":-1},{"c":"F1","p":"S11","f":785,"v":-0.4},{"c":"F1","p":"S11","f":800,"v":0},
{"c":"F1","p":"S22","f":600,"v":-0.4},{"c":"F1","p":"S22","f":630,"v":-0.9},{"c":"F1","p":"S22","f":645,"v":-2},{"c":"F1","p":"S22","f":655,"v":-4},{"c":"F1","p":"S22","f":662,"v":-5.5},{"c":"F1","p":"S22","f":670,"v":-7.5},{"c":"F1","p":"S22","f":678,"v":-11},{"c":"F1","p":"S22","f":684,"v":-14.5},{"c":"F1","p":"S22","f":687,"v":-20},{"c":"F1","p":"S22","f":689,"v":-26},{"c":"F1","p":"S22","f":691,"v":-19},{"c":"F1","p":"S22","f":695,"v":-16.5},{"c":"F1","p":"S22","f":699,"v":-16},{"c":"F1","p":"S22","f":703,"v":-18},{"c":"F1","p":"S22","f":707,"v":-17.5},{"c":"F1","p":"S22","f":712,"v":-18.5},{"c":"F1","p":"S22","f":716,"v":-22},{"c":"F1","p":"S22","f":719,"v":-26},{"c":"F1","p":"S22","f":721.5,"v":-33},{"c":"F1","p":"S22","f":724,"v":-24},{"c":"F1","p":"S22","f":728,"v":-17},{"c":"F1","p":"S22","f":733,"v":-12},{"c":"F1","p":"S22","f":739,"v":-8},{"c":"F1","p":"S22","f":745,"v":-5.5},{"c":"F1","p":"S22","f":752,"v":-3.3},{"c":"F1","p":"S22","f":760,"v":-2},{"c":"F1","p":"S22","f":770,"v":-1.1},{"c":"F1","p":"S22","f":785,"v":-0.5},{"c":"F1","p":"S22","f":800,"v":0},
{"c":"F2","p":"S11","f":600,"v":-0.3},{"c":"F2","p":"S11","f":640,"v":-1.2},{"c":"F2","p":"S11","f":652,"v":-3},{"c":"F2","p":"S11","f":662,"v":-5},{"c":"F2","p":"S11","f":672,"v":-7.5},{"c":"F2","p":"S11","f":680,"v":-11},{"c":"F2","p":"S11","f":686,"v":-17},{"c":"F2","p":"S11","f":689,"v":-22},{"c":"F2","p":"S11","f":692,"v":-17},{"c":"F2","p":"S11","f":698,"v":-18.6},{"c":"F2","p":"S11","f":702,"v":-20.5},{"c":"F2","p":"S11","f":704.7,"v":-23.5},{"c":"F2","p":"S11","f":707,"v":-20},{"c":"F2","p":"S11","f":709,"v":-18.6},{"c":"F2","p":"S11","f":715,"v":-16.7},{"c":"F2","p":"S11","f":720,"v":-19},{"c":"F2","p":"S11","f":724,"v":-24},{"c":"F2","p":"S11","f":726.8,"v":-33.4},{"c":"F2","p":"S11","f":729,"v":-24},{"c":"F2","p":"S11","f":731,"v":-18.6},{"c":"F2","p":"S11","f":735,"v":-13},{"c":"F2","p":"S11","f":740,"v":-8.5},{"c":"F2","p":"S11","f":748,"v":-4.5},{"c":"F2","p":"S11","f":760,"v":-2},{"c":"F2","p":"S11","f":775,"v":-0.8},{"c":"F2","p":"S11","f":800,"v":0},
{"c":"F2","p":"S22","f":600,"v":-0.4},{"c":"F2","p":"S22","f":640,"v":-1.3},{"c":"F2","p":"S22","f":652,"v":-3.3},{"c":"F2","p":"S22","f":662,"v":-5.5},{"c":"F2","p":"S22","f":672,"v":-8},{"c":"F2","p":"S22","f":680,"v":-12},{"c":"F2","p":"S22","f":685,"v":-19},{"c":"F2","p":"S22","f":688,"v":-25},{"c":"F2","p":"S22","f":691,"v":-18},{"c":"F2","p":"S22","f":697,"v":-20},{"c":"F2","p":"S22","f":701,"v":-24},{"c":"F2","p":"S22","f":703.5,"v":-30},{"c":"F2","p":"S22","f":706,"v":-22},{"c":"F2","p":"S22","f":711,"v":-18.5},{"c":"F2","p":"S22","f":716,"v":-18},{"c":"F2","p":"S22","f":720,"v":-21},{"c":"F2","p":"S22","f":723,"v":-26},{"c":"F2","p":"S22","f":725,"v":-34},{"c":"F2","p":"S22","f":727,"v":-26},{"c":"F2","p":"S22","f":730,"v":-19},{"c":"F2","p":"S22","f":735,"v":-13.5},{"c":"F2","p":"S22","f":740,"v":-9},{"c":"F2","p":"S22","f":748,"v":-5},{"c":"F2","p":"S22","f":760,"v":-2.2},{"c":"F2","p":"S22","f":775,"v":-0.9},{"c":"F2","p":"S22","f":800,"v":0},
{"c":"F3","p":"S11","f":600,"v":-0.3},{"c":"F3","p":"S11","f":640,"v":-1.3},{"c":"F3","p":"S11","f":650,"v":-3},{"c":"F3","p":"S11","f":655,"v":-5.5},{"c":"F3","p":"S11","f":658,"v":-7},{"c":"F3","p":"S11","f":661,"v":-6},{"c":"F3","p":"S11","f":664,"v":-5.5},{"c":"F3","p":"S11","f":670,"v":-7},{"c":"F3","p":"S11","f":678,"v":-10},{"c":"F3","p":"S11","f":685,"v":-13.5},{"c":"F3","p":"S11","f":690,"v":-14.5},{"c":"F3","p":"S11","f":694,"v":-13.5},{"c":"F3","p":"S11","f":698.6,"v":-14},{"c":"F3","p":"S11","f":702,"v":-16.5},{"c":"F3","p":"S11","f":705.5,"v":-19},{"c":"F3","p":"S11","f":709,"v":-15},{"c":"F3","p":"S11","f":712.3,"v":-13},{"c":"F3","p":"S11","f":717,"v":-12},{"c":"F3","p":"S11","f":722,"v":-12.5},{"c":"F3","p":"S11","f":727,"v":-13},{"c":"F3","p":"S11","f":731,"v":-12},{"c":"F3","p":"S11","f":735,"v":-9.8},{"c":"F3","p":"S11","f":740,"v":-6.1},{"c":"F3","p":"S11","f":744,"v":-4.3},{"c":"F3","p":"S11","f":752,"v":-2.4},{"c":"F3","p":"S11","f":760,"v":-1.5},{"c":"F3","p":"S11","f":775,"v":-0.6},{"c":"F3","p":"S11","f":800,"v":0},
{"c":"F3","p":"S22","f":600,"v":-0.4},{"c":"F3","p":"S22","f":640,"v":-1.5},{"c":"F3","p":"S22","f":650,"v":-3.5},{"c":"F3","p":"S22","f":655,"v":-6},{"c":"F3","p":"S22","f":658,"v":-7.5},{"c":"F3","p":"S22","f":661,"v":-6.5},{"c":"F3","p":"S22","f":665,"v":-6},{"c":"F3","p":"S22","f":671,"v":-7.5},{"c":"F3","p":"S22","f":678,"v":-10.5},{"c":"F3","p":"S22","f":685,"v":-14},{"c":"F3","p":"S22","f":690,"v":-15.5},{"c":"F3","p":"S22","f":694,"v":-14.5},{"c":"F3","p":"S22","f":698,"v":-15},{"c":"F3","p":"S22","f":701.5,"v":-18},{"c":"F3","p":"S22","f":704,"v":-21},{"c":"F3","p":"S22","f":707,"v":-16.5},{"c":"F3","p":"S22","f":711,"v":-14},{"c":"F3","p":"S22","f":716,"v":-13},{"c":"F3","p":"S22","f":721,"v":-13.5},{"c":"F3","p":"S22","f":726,"v":-14},{"c":"F3","p":"S22","f":730,"v":-13},{"c":"F3","p":"S22","f":735,"v":-10.5},{"c":"F3","p":"S22","f":740,"v":-6.8},{"c":"F3","p":"S22","f":745,"v":-4.6},{"c":"F3","p":"S22","f":752,"v":-2.6},{"c":"F3","p":"S22","f":760,"v":-1.6},{"c":"F3","p":"S22","f":775,"v":-0.7},{"c":"F3","p":"S22","f":800,"v":0}
]
},
"vconcat": [
{
  "width": 438, "height": 287,
  "title": {"text": "(a)", "orient": "bottom", "offset": 4},
  "resolve": {"scale": {"y": "independent"}, "axis": {"x": "independent"}},
  "layer": [
    {"layer": [
      {"data": {"name": "aL"}, "mark": {"type": "line", "clip": true, "strokeWidth": 2.6},
       "encoding": {
         "x": {"field": "f", "type": "quantitative", "scale": {"domain": [520, 850], "nice": false}, "axis": {"orient": "bottom", "values": [600, 700, 800], "title": "Frequency (MHz)", "titleFontSize": 27, "titlePadding": 8, "labelPadding": 18, "labelExpr": "'' + datum.value"}},
         "y": {"field": "v", "type": "quantitative", "scale": {"domain": [-50, 0], "nice": false}, "axis": {"orient": "left", "values": [-50, -40, -30, -20, -10, 0], "title": "|S₂₁| & |S₁₂| (dB)", "titlePadding": 8, "labelExpr": "'' + datum.value"}},
         "color": {"field": "c", "type": "nominal", "scale": {"domain": ["F1", "F2", "F3", "F4"], "range": ["#000000", "#0000ff", "#ff0000", "#4db31a"]}, "legend": null},
         "strokeDash": {"field": "p", "type": "nominal", "scale": {"domain": ["S21", "S12", "S11", "S22"], "range": [[1, 0], [10, 6], [1, 0], [5, 3]]}, "legend": null}
       }},
      {"data": {"values": [{}]}, "mark": {"type": "rule", "color": "black", "strokeWidth": 2.6},
       "encoding": {"x": {"datum": 525.5}, "x2": {"datum": 545.5}, "y": {"datum": -4.4}}},
      {"data": {"values": [{}]}, "mark": {"type": "text", "align": "left", "baseline": "middle", "fontSize": 25, "font": "Liberation Sans", "color": "black"},
       "encoding": {"x": {"datum": 547}, "y": {"datum": -4.4}, "text": {"value": "|S₂₁|,|S₁₁|"}}},
      {"data": {"values": [{}]}, "mark": {"type": "rule", "color": "black", "strokeWidth": 2.6, "strokeDash": [6, 3]},
       "encoding": {"x": {"datum": 734}, "x2": {"datum": 755}, "y": {"datum": -5.2}}},
      {"data": {"values": [{}]}, "mark": {"type": "text", "align": "right", "baseline": "middle", "fontSize": 25, "font": "Liberation Sans", "color": "black"},
       "encoding": {"x": {"datum": 846.5}, "y": {"datum": -5.2}, "text": {"value": "|S₁₂|,|S₂₂|"}}}
    ]},
    {"layer": [
      {"data": {"name": "aR"}, "mark": {"type": "line", "clip": true, "strokeWidth": 1.3},
       "encoding": {
         "x": {"field": "f", "type": "quantitative", "scale": {"domain": [520, 850], "nice": false}, "axis": {"orient": "top", "values": [600, 700, 800], "labels": false, "title": null}},
         "y": {"field": "v", "type": "quantitative", "scale": {"domain": [-40, 40], "nice": false}, "axis": {"orient": "right", "values": [-40, -20, 0, 20, 40], "title": "|S₁₁| & |S₂₂| (dB)", "titleAngle": -90, "titleBaseline": "top", "titlePadding": 14, "labelExpr": "'' + datum.value"}},
         "color": {"field": "c", "type": "nominal", "scale": {"domain": ["F1", "F2", "F3", "F4"], "range": ["#000000", "#0000ff", "#ff0000", "#4db31a"]}, "legend": null},
         "strokeDash": {"field": "p", "type": "nominal", "scale": {"domain": ["S21", "S12", "S11", "S22"], "range": [[1, 0], [10, 6], [1, 0], [5, 3]]}, "legend": null}
       }},
      {"data": {"values": [{}]}, "mark": {"type": "point", "shape": "M0,-1A0.55,1 0 1,1 0,1A0.55,1 0 1,1 0,-1Z", "filled": false, "stroke": "black", "strokeWidth": 2.5, "size": 1225, "opacity": 1},
       "encoding": {"x": {"datum": 820}, "y": {"datum": 0}}},
      {"data": {"values": [{}]}, "mark": {"type": "rule", "color": "black", "strokeWidth": 2.5},
       "encoding": {"x": {"datum": 820}, "x2": {"datum": 840}, "y": {"datum": 4.6}}},
      {"data": {"values": [{}]}, "mark": {"type": "point", "shape": "triangle-right", "filled": true, "color": "black", "size": 110, "opacity": 1},
       "encoding": {"x": {"datum": 843.5}, "y": {"datum": 4.6}}}
    ]}
  ]
},
{
  "width": 438, "height": 289,
  "title": {"text": "(b)", "orient": "bottom", "offset": 8},
  "resolve": {"scale": {"y": "independent"}, "axis": {"x": "independent"}},
  "layer": [
    {"layer": [
      {"data": {"name": "bL"}, "mark": {"type": "line", "clip": true, "strokeWidth": 2.6},
       "encoding": {
         "x": {"field": "f", "type": "quantitative", "scale": {"domain": [600, 800], "nice": false}, "axis": {"orient": "bottom", "values": [600, 650, 700, 750, 800], "title": "Frequency (MHz)", "titleFontSize": 27, "titlePadding": 8, "labelPadding": 18, "labelExpr": "'' + datum.value"}},
         "y": {"field": "v", "type": "quantitative", "scale": {"domain": [-50, 0], "nice": false}, "axis": {"orient": "left", "values": [-50, -40, -30, -20, -10, 0], "title": "|S₂₁| & |S₁₂| (dB)", "titlePadding": 8, "labelExpr": "'' + datum.value"}},
         "color": {"field": "c", "type": "nominal", "scale": {"domain": ["F1", "F2", "F3", "F4"], "range": ["#000000", "#0000ff", "#ff0000", "#4db31a"]}, "legend": null},
         "strokeDash": {"field": "p", "type": "nominal", "scale": {"domain": ["S21", "S12", "S11", "S22"], "range": [[1, 0], [10, 6], [1, 0], [5, 3]]}, "legend": null}
       }},
      {"data": {"values": [{}]}, "mark": {"type": "rule", "color": "black", "strokeWidth": 2.6},
       "encoding": {"x": {"datum": 602.7}, "x2": {"datum": 615.5}, "y": {"datum": -4.3}}},
      {"data": {"values": [{}]}, "mark": {"type": "text", "align": "left", "baseline": "middle", "fontSize": 25, "font": "Liberation Sans", "color": "black"},
       "encoding": {"x": {"datum": 616.5}, "y": {"datum": -4.3}, "text": {"value": "|S₂₁|,|S₁₁|"}}},
      {"data": {"values": [{}]}, "mark": {"type": "rule", "color": "black", "strokeWidth": 2.6, "strokeDash": [6, 3]},
       "encoding": {"x": {"datum": 731}, "x2": {"datum": 744.5}, "y": {"datum": -4.8}}},
      {"data": {"values": [{}]}, "mark": {"type": "text", "align": "right", "baseline": "middle", "fontSize": 25, "font": "Liberation Sans", "color": "black"},
       "encoding": {"x": {"datum": 799}, "y": {"datum": -4.8}, "text": {"value": "|S₁₂|,|S₂₂|"}}}
    ]},
    {"layer": [
      {"data": {"name": "bR"}, "mark": {"type": "line", "clip": true, "strokeWidth": 1.3},
       "encoding": {
         "x": {"field": "f", "type": "quantitative", "scale": {"domain": [600, 800], "nice": false}, "axis": {"orient": "top", "values": [600, 650, 700, 750, 800], "labels": false, "title": null}},
         "y": {"field": "v", "type": "quantitative", "scale": {"domain": [-40, 40], "nice": false}, "axis": {"orient": "right", "values": [-40, -20, 0, 20, 40], "title": "|S₁₁| & |S₂₂| (dB)", "titleAngle": -90, "titleBaseline": "top", "titlePadding": 14, "labelExpr": "'' + datum.value"}},
         "color": {"field": "c", "type": "nominal", "scale": {"domain": ["F1", "F2", "F3", "F4"], "range": ["#000000", "#0000ff", "#ff0000", "#4db31a"]}, "legend": null},
         "strokeDash": {"field": "p", "type": "nominal", "scale": {"domain": ["S21", "S12", "S11", "S22"], "range": [[1, 0], [10, 6], [1, 0], [5, 3]]}, "legend": null}
       }},
      {"data": {"values": [{}]}, "mark": {"type": "point", "shape": "M0,-1A0.55,1 0 1,1 0,1A0.55,1 0 1,1 0,-1Z", "filled": false, "stroke": "black", "strokeWidth": 2.5, "size": 1225, "opacity": 1},
       "encoding": {"x": {"datum": 771.7}, "y": {"datum": -1}}},
      {"data": {"values": [{}]}, "mark": {"type": "rule", "color": "black", "strokeWidth": 2.5},
       "encoding": {"x": {"datum": 771.7}, "x2": {"datum": 794}, "y": {"datum": 3.8}}},
      {"data": {"values": [{}]}, "mark": {"type": "point", "shape": "triangle-right", "filled": true, "color": "black", "size": 110, "opacity": 1},
       "encoding": {"x": {"datum": 796.3}, "y": {"datum": 3.8}}}
    ]}
  ]
}
]
}
